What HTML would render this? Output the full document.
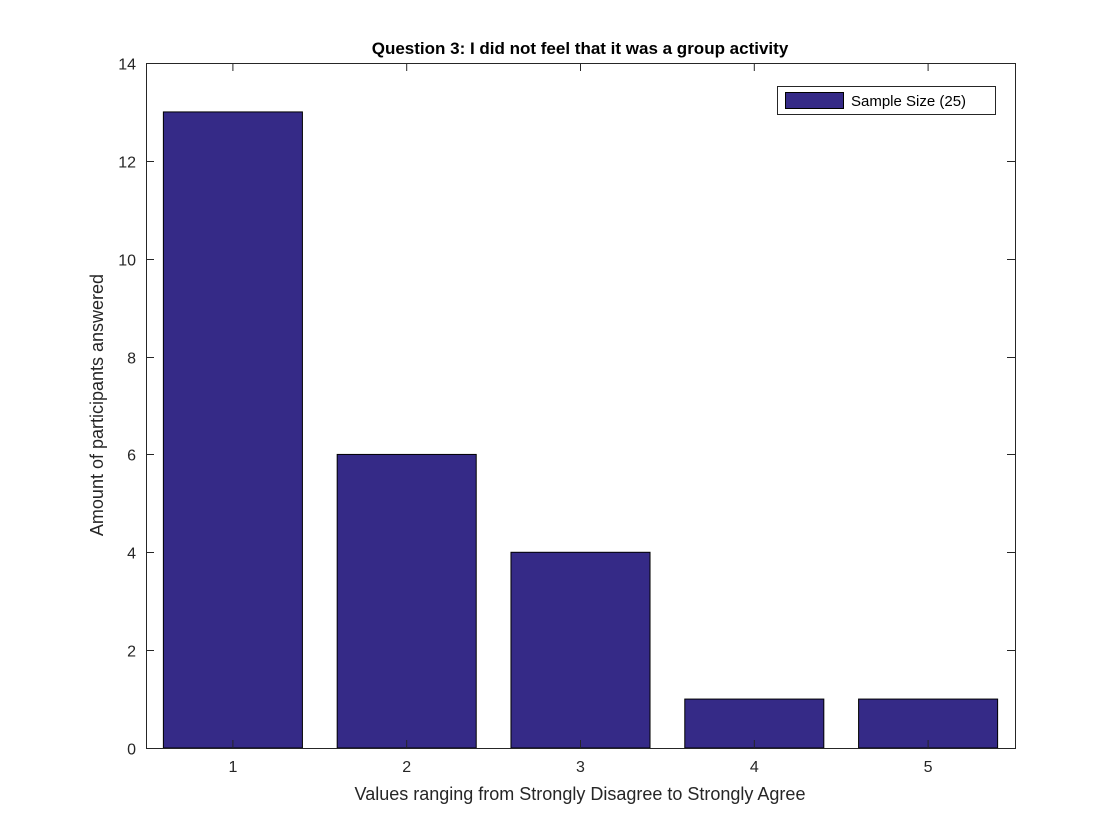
<!DOCTYPE html>
<html><head><meta charset="utf-8"><style>
body{margin:0;background:#fff;}
svg{display:block;font-family:"Liberation Sans",sans-serif;}
</style></head><body>
<svg id="chart" width="1120" height="840">
<rect width="1120" height="840" fill="#fff"/>
<rect x="146" y="63" width="869" height="685" fill="#fff"/>
<g id="bars"></g>
<g id="axes"></g>
<text x="580" y="54" text-anchor="middle" font-size="17" font-weight="bold" fill="#000">Question 3: I did not feel that it was a group activity</text>
<text x="580" y="800" text-anchor="middle" font-size="18" fill="#262626">Values ranging from Strongly Disagree to Strongly Agree</text>
<text transform="translate(103,405) rotate(-90)" text-anchor="middle" font-size="18" fill="#262626">Amount of participants answered</text>
<g>
<rect x="777.5" y="86.5" width="218" height="28" fill="#fff" stroke="#262626" stroke-width="1"/>
<rect x="785.5" y="92.5" width="58" height="16" fill="#352a87" stroke="#000" stroke-width="1"/>
<text x="851" y="106" font-size="15" fill="#000">Sample Size (25)</text>
</g>
</svg>
<script>
const categories=[1,2,3,4,5];
const values=[13,6,4,1,1];
const yTicks=[0,2,4,6,8,10,12,14];
const L=146,R=1015,T=63,B=748;
const xS=v=>L+(v-0.5)/5*(R-L);
const yS=v=>B-v/14*(B-T);
const ns="http://www.w3.org/2000/svg";
const bars=document.getElementById('bars'),axes=document.getElementById('axes');
function mk(tag,attrs,parent){const e=document.createElementNS(ns,tag);for(const k in attrs)e.setAttribute(k,attrs[k]);parent.appendChild(e);return e;}
const bw=0.8*(R-L)/5;
categories.forEach((c,i)=>{
 const r=mk('rect',{x:xS(c)-bw/2,y:yS(values[i]),width:bw,height:yS(0)-yS(values[i]),fill:'#352a87',stroke:'#000','stroke-width':1},bars);
 
 
 const t=mk('text',{x:xS(c),y:B+24,'text-anchor':'middle','font-size':16,fill:'#262626'},axes);t.textContent=c;
 
 
 mk('line',{x1:xS(c),x2:xS(c),y1:B,y2:B-8,stroke:'#262626'},axes);
 mk('line',{x1:xS(c),x2:xS(c),y1:T,y2:T+8,stroke:'#262626'},axes);
});
yTicks.forEach(v=>{
 const y=Math.round(yS(v))+0.5;
 mk('line',{x1:L,x2:L+8,y1:y,y2:y,stroke:'#262626'},axes);
 mk('line',{x1:R,x2:R-8,y1:y,y2:y,stroke:'#262626'},axes);
 const t=mk('text',{x:L-10,y:y+6,'text-anchor':'end','font-size':16,fill:'#262626'},axes);t.textContent=v;
 
 
});
const box=mk('rect',{x:L+0.5,y:T+0.5,width:R-L,height:B-T,fill:'none',stroke:'#262626','stroke-width':1},axes);


</script>
</body></html>
